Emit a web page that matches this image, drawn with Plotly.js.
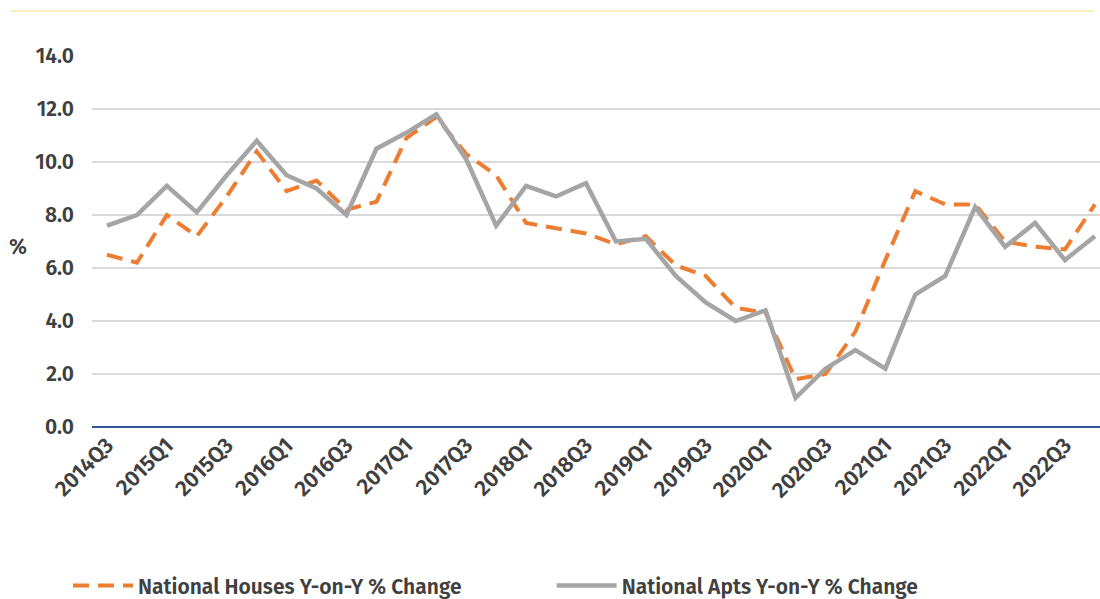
<!DOCTYPE html>
<html>
<head>
<meta charset="utf-8">
<script src="https://cdn.plot.ly/plotly-3.0.1.min.js"></script>
<style>html,body{margin:0;padding:0;background:#fff;}#chart{width:1100px;height:599px;}</style>
</head>
<body>
<div id="chart"></div>
<script>
const quarters = [
  "2014Q3","2014Q4","2015Q1","2015Q2","2015Q3","2015Q4","2016Q1","2016Q2","2016Q3","2016Q4",
  "2017Q1","2017Q2","2017Q3","2017Q4","2018Q1","2018Q2","2018Q3","2018Q4","2019Q1","2019Q2",
  "2019Q3","2019Q4","2020Q1","2020Q2","2020Q3","2020Q4","2021Q1","2021Q2","2021Q3","2021Q4",
  "2022Q1","2022Q2","2022Q3","2022Q4"
];
const housesYoY = [
  6.5, 6.2, 8.0, 7.2, 8.7, 10.4, 8.9, 9.3, 8.2, 8.5,
  10.9, 11.7, 10.3, 9.5, 7.7, 7.5, 7.3, 6.9, 7.2, 6.1,
  5.7, 4.5, 4.3, 1.8, 2.0, 3.6, 6.3, 8.9, 8.4, 8.4,
  7.0, 6.8, 6.7, 8.4
];
const aptsYoY = [
  7.6, 8.0, 9.1, 8.1, 9.5, 10.8, 9.5, 9.0, 8.0, 10.5,
  11.1, 11.8, 10.1, 7.6, 9.1, 8.7, 9.2, 7.0, 7.1, 5.7,
  4.7, 4.0, 4.4, 1.1, 2.2, 2.9, 2.2, 5.0, 5.7, 8.3,
  6.8, 7.7, 6.3, 7.2
];
const tickLabels = quarters.filter((q, i) => i % 2 === 0);
const seriesNames = ["National Houses Y-on-Y % Change", "National Apts Y-on-Y % Change"];

const fontFam = "'Fira Sans', 'Noto Sans', 'Open Sans', sans-serif";
const txtColor = "#404040";

const traces = [
  {
    x: quarters, y: housesYoY, type: "scatter", mode: "lines", name: seriesNames[0],
    line: {color: "#ED7D31", width: 4, dash: "16px,9px"}, legend: "legend"
  },
  {
    x: quarters, y: aptsYoY, type: "scatter", mode: "lines", name: seriesNames[1],
    line: {color: "#A5A5A5", width: 4.5}, legend: "legend2"
  }
];

const legFont = {size: 21, color: txtColor, family: fontFam, weight: 600};

const layout = {
  width: 1100, height: 599,
  margin: {l: 92, r: 0, t: 56, b: 172, autoexpand: false},
  paper_bgcolor: "#ffffff", plot_bgcolor: "#ffffff",
  font: {family: fontFam, color: txtColor},
  showlegend: true,
  legend: {
    orientation: "h", x: -0.0238, xanchor: "left", y: -0.428, yanchor: "middle",
    font: legFont, itemwidth: 60, bgcolor: "rgba(0,0,0,0)"
  },
  legend2: {
    orientation: "h", x: 0.456, xanchor: "left", y: -0.428, yanchor: "middle",
    font: legFont, itemwidth: 60, bgcolor: "rgba(0,0,0,0)"
  },
  xaxis: {
    type: "category", range: [-0.5, 33.17],
    tickmode: "array", tickvals: tickLabels, ticktext: tickLabels,
    tickangle: -45, tickfont: {size: 22, color: txtColor, family: fontFam, weight: 600},
    showgrid: false, showline: false, ticks: "", zeroline: false, fixedrange: true
  },
  yaxis: {
    range: [0, 14], tickvals: [0, 2, 4, 6, 8, 10, 12, 14], tickformat: ".1f",
    tickfont: {size: 21, color: txtColor, family: fontFam, weight: 600},
    showgrid: true, gridcolor: "#D9D9D9", gridwidth: 1.5,
    zeroline: true, zerolinecolor: "#2F5597", zerolinewidth: 2.5,
    showline: false, ticks: "", ticklen: 0, ticklabelstandoff: 17, fixedrange: true
  },
  annotations: [
    {text: "%", xref: "paper", yref: "paper", x: -0.073, y: 0.485, xanchor: "center", yanchor: "middle",
     showarrow: false, font: {size: 21, color: txtColor, family: fontFam, weight: 600}}
  ],
  shapes: [
    {type: "line", xref: "paper", yref: "paper", x0: -0.081, x1: 0.994, y0: 1.121, y1: 1.121,
     line: {color: "#FCE8A6", width: 1.5}}
  ]
};

Plotly.newPlot("chart", traces, layout, {displayModeBar: false, staticPlot: true});
</script>
</body>
</html>
